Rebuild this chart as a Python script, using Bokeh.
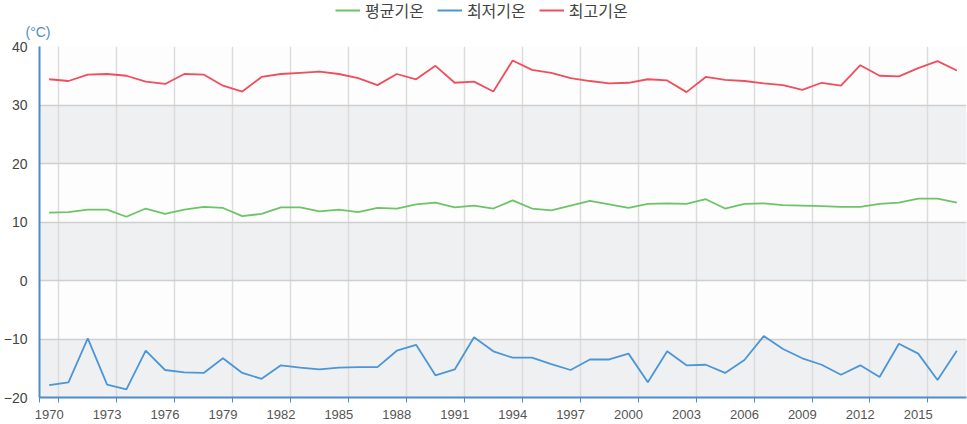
from bokeh.plotting import figure
from bokeh.layouts import column
from bokeh.models import (Range1d, LinearAxis, FixedTicker, Grid, Legend, LegendItem,
                          Title, BoxAnnotation)
from bokeh.embed import file_html
from bokeh.resources import INLINE

years = list(range(1970, 2018))
avg_temp = [11.6, 11.7, 12.1, 12.1, 10.9, 12.3, 11.4, 12.1, 12.6, 12.4,
            11.0, 11.4, 12.5, 12.5, 11.8, 12.1, 11.7, 12.4, 12.3, 13.0,
            13.3, 12.5, 12.8, 12.3, 13.7, 12.3, 12.0, 12.8, 13.6, 13.0,
            12.4, 13.1, 13.2, 13.1, 13.9, 12.3, 13.1, 13.2, 12.9, 12.8,
            12.7, 12.6, 12.6, 13.1, 13.3, 14.0, 14.0, 13.3]
min_temp = [-17.9, -17.4, -9.9, -17.8, -18.6, -12.0, -15.3, -15.7, -15.8, -13.3,
            -15.8, -16.8, -14.5, -14.9, -15.2, -14.9, -14.8, -14.8, -12.0, -11.0,
            -16.2, -15.2, -9.7, -12.1, -13.2, -13.2, -14.3, -15.3, -13.5, -13.5,
            -12.5, -17.4, -12.1, -14.5, -14.4, -15.8, -13.6, -9.5, -11.7, -13.3,
            -14.4, -16.1, -14.5, -16.5, -10.8, -12.5, -17.0, -12.0]
max_temp = [34.4, 34.1, 35.2, 35.3, 35.0, 34.0, 33.6, 35.3, 35.2, 33.3,
            32.3, 34.8, 35.3, 35.5, 35.7, 35.3, 34.6, 33.4, 35.3, 34.4,
            36.7, 33.8, 34.0, 32.3, 37.6, 36.0, 35.5, 34.6, 34.1, 33.7,
            33.8, 34.4, 34.2, 32.2, 34.8, 34.3, 34.1, 33.7, 33.4, 32.6,
            33.8, 33.3, 36.8, 35.0, 34.9, 36.3, 37.5, 35.9]
series_names = ["평균기온", "최저기온", "최고기온"]
unit_text = "(°C)"
label_years = list(range(1970, 2016, 3))
y_ticks = [-20, -10, 0, 10, 20, 30, 40]

GREEN = "#6cc467"
BLUE = "#4b96d6"
RED = "#f04d5d"
AXIS_BLUE = "#4f8cc9"
W, TOP_H, MAIN_H = 967, 40, 384

# ---- header strip: legend (in frame) + unit title (below) ----
head = figure(width=W, height=TOP_H, output_backend="svg", toolbar_location=None,
              x_range=Range1d(0, 10), y_range=Range1d(0, 10),
              x_axis_location=None, y_axis_location=None, min_border=0)
head.outline_line_color = None
head.grid.visible = False
h_avg = head.line(years, avg_temp, line_color=GREEN, line_width=2)
h_min = head.line(years, min_temp, line_color=BLUE, line_width=2)
h_max = head.line(years, max_temp, line_color=RED, line_width=2)
legend = Legend(items=[LegendItem(label=series_names[0], renderers=[h_avg]),
                       LegendItem(label=series_names[1], renderers=[h_min]),
                       LegendItem(label=series_names[2], renderers=[h_max])],
                orientation="horizontal", location=(296, 0),
                border_line_color=None, background_fill_alpha=0,
                label_text_font="Noto Sans CJK KR", label_text_font_size="16px",
                label_text_color="#444444",
                glyph_width=25, glyph_height=16, spacing=13,
                padding=0, margin=0, label_standoff=5)
head.add_layout(legend)
head.add_layout(Title(text=unit_text, align="left", offset=-14, standoff=0,
                      vertical_align="middle",
                      text_font="Liberation Sans", text_font_size="14px",
                      text_font_style="normal", text_color=AXIS_BLUE), "below")

# ---- main chart ----
p = figure(width=W, height=MAIN_H, output_backend="svg", toolbar_location=None,
           x_range=Range1d(years[0] - 0.5, years[-1] + 0.5),
           y_range=Range1d(-20, 40),
           x_axis_location=None, y_axis_location=None,
           min_border_top=6, min_border_right=1, min_border_left=0, min_border_bottom=27)
p.outline_line_color = None
p.background_fill_color = "#fdfdfd"
p.border_fill_color = "white"
p.grid.visible = False

yaxis = LinearAxis(ticker=FixedTicker(ticks=y_ticks),
                   axis_line_color=AXIS_BLUE, axis_line_width=2,
                   major_tick_line_color=None, minor_tick_line_color=None,
                   major_label_text_font="Liberation Sans",
                   major_label_text_font_size="14px",
                   major_label_text_color="#444444",
                   major_label_standoff=6)
p.add_layout(yaxis, "left")

boundaries = [years[0] - 0.5] + [y + 0.5 for y in label_years]
xtick_axis = LinearAxis(ticker=FixedTicker(ticks=boundaries),
                        axis_line_color=AXIS_BLUE, axis_line_width=2,
                        major_tick_line_color=AXIS_BLUE, major_tick_line_width=1,
                        major_tick_out=5, major_tick_in=0,
                        minor_tick_line_color=None,
                        major_label_overrides={t: "" for t in boundaries},
                        major_label_text_font_size="1px",
                        major_label_standoff=0)
p.add_layout(xtick_axis, "below")
xlabel_axis = LinearAxis(ticker=FixedTicker(ticks=label_years),
                         axis_line_color=None, major_tick_line_color=None,
                         minor_tick_line_color=None,
                         major_label_overrides={y: str(y) for y in label_years},
                         major_label_text_font="Liberation Sans",
                         major_label_text_font_size="13px",
                         major_label_text_color="#555555",
                         major_label_standoff=1)
p.add_layout(xlabel_axis, "below")

for lo, hi in zip(y_ticks[0:-1:2], y_ticks[1::2]):
    p.add_layout(BoxAnnotation(bottom=lo, top=hi, fill_color="#eff0f2", fill_alpha=1.0,
                               line_color=None, level="underlay"))

xgrid = Grid(dimension=0, ticker=FixedTicker(ticks=boundaries[1:]),
             grid_line_color="#dcdcdc", grid_line_width=1.5)
p.add_layout(xgrid)
ygrid = Grid(dimension=1, ticker=FixedTicker(ticks=y_ticks),
             grid_line_color="#cfcfcf", grid_line_width=1.5)
p.add_layout(ygrid)

p.line(years, avg_temp, line_color=GREEN, line_width=1.8)
p.line(years, min_temp, line_color=BLUE, line_width=1.8)
p.line(years, max_temp, line_color=RED, line_width=1.8)

layout = column(head, p, spacing=0)
open("out.html", "w").write(file_html(layout, INLINE))
